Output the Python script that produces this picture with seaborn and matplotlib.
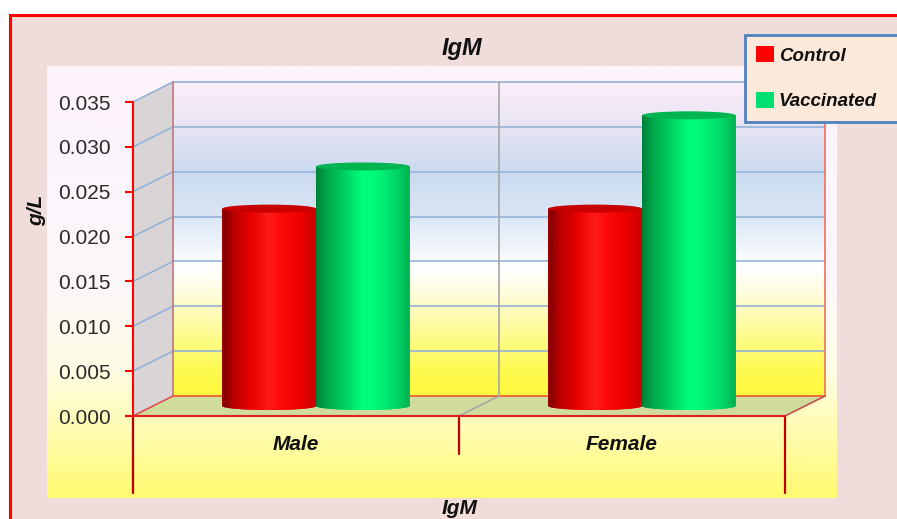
import numpy as np
import pandas as pd
import matplotlib
matplotlib.use("Agg")
import matplotlib.pyplot as plt
import seaborn as sns
from matplotlib.colors import LinearSegmentedColormap
from matplotlib.patches import Rectangle, Polygon, Ellipse
from matplotlib.transforms import ScaledTranslation

# data
sexes = ["Male", "Female"]
groups = ["Control", "Vaccinated"]
control = [0.0220, 0.0220]
vaccinated = [0.0267, 0.0324]
yticks = [0.000, 0.005, 0.010, 0.015, 0.020, 0.025, 0.030, 0.035]

df = pd.DataFrame({
    "sex": sexes + sexes,
    "group": [groups[0]] * 2 + [groups[1]] * 2,
    "igm": control + vaccinated,
})

sns.set_theme(style="white")
plt.rcParams["font.family"] = ["Liberation Sans", "DejaVu Sans"]

W, H = 897, 519
fig = plt.figure(figsize=(W / 100, H / 100), dpi=100)
fig.patch.set_facecolor("white")

# background layer in pixel coords (y down)
bg = fig.add_axes([0, 0, 1, 1], zorder=0)
bg.axis("off")

# front plane of the 3d box, depth offset to the back wall
L, R, T, B = 133, 785, 102, 416
DX, DY = 40, 20
ax = fig.add_axes([L / W, (H - B) / H, (R - L) / W, (B - T) / H], zorder=1)
ax.patch.set_visible(False)

pal = ["#ff0000", "#00e070"]
sns.barplot(data=df, x="sex", y="igm", hue="group", palette=pal, width=0.575,
            saturation=1, errorbar=None, linewidth=0, ax=ax)

ax.set_xlim(-0.5, 1.5)
ax.set_ylim(0, 0.035)


def px(xd, yd):
    x, y = ax.transData.transform((xd, yd))
    return x, H - y


def grad_img(axis, extent, stops, vertical=True, **kw):
    cmap = LinearSegmentedColormap.from_list("g", stops)
    arr = np.linspace(0, 1, 256)
    arr = arr.reshape(-1, 1) if vertical else arr.reshape(1, -1)
    return axis.imshow(arr, cmap=cmap, extent=extent, aspect="auto",
                       interpolation="bicubic", **kw)


# outer chart area with red border
bg.add_patch(Rectangle((10, 15), W, H, facecolor="#efdcdb", edgecolor="#ff0000",
                       lw=2.2, zorder=1))
# inner plot area
grad_img(bg, (47, 837, 498, 66),
         [(0, "#fdf3fb"), (0.5, "#fcf7fb"), (0.7, "#fffde6"),
          (0.85, "#fffcb0"), (1, "#fffa70")], zorder=2)

# side wall, back wall, floor
bg.add_patch(Polygon([(L, B), (L, T), (L + DX, T - DY), (L + DX, B - DY)],
                     facecolor="#d9d4d6", edgecolor="none", zorder=3))
grad_img(bg, (L + DX, R + DX, B - DY, T - DY),
         [(0, "#fdeefa"), (0.15, "#e6e4f3"), (0.29, "#cadaef"), (0.43, "#dbe6f5"),
          (0.55, "#f6f9fd"), (0.6, "#ffffff"), (0.7, "#fdfcce"), (0.82, "#fdfb88"),
          (0.92, "#fefa50"), (1, "#fff93e")], zorder=3)
bg.add_patch(Polygon([(L, B), (R, B), (R + DX, B - DY), (L + DX, B - DY)],
                     facecolor="#d0dc9c", edgecolor="none", zorder=3))

# gridlines on back wall and side wall
for v in yticks[1:]:
    _, y = px(-0.5, v)
    bg.plot([L + DX, R + DX], [y - DY, y - DY], color="#95b3d7", lw=1.2, zorder=4)
    bg.plot([L, L + DX], [y, y - DY], color="#95b3d7", lw=1.2, zorder=4)

# box edges
bg.plot([L + DX, R + DX], [B - DY, B - DY], color="#ee6a3a", lw=1.4, zorder=5)
bg.plot([L + DX, L + DX], [T - DY, B - DY], color="#c07878", lw=1.2, zorder=5)
bg.plot([R + DX, R + DX], [T - DY, B - DY], color="#f07060", lw=1.2, zorder=5)
bg.plot([L, L + DX], [B, B - DY], color="#e05050", lw=1.2, zorder=5)
bg.plot([R, R + DX], [B, B - DY], color="#c0504d", lw=1.2, zorder=5)

# category boundaries
for xb in [-0.5, 0.5, 1.5]:
    x, _ = px(xb, 0)
    if xb == 0.5:
        bg.plot([x + DX, x + DX], [T - DY, B - DY], color="#a6a6a6", lw=1.2, zorder=5)
        bg.plot([x, x + DX], [B, B - DY], color="#a6a6a6", lw=1.2, zorder=5)
        bot = 454
    else:
        bot = 493
    bg.plot([x, x], [B, bot], color="#c00000", lw=1.6, zorder=5)

bg.set_xlim(0, W)
bg.set_ylim(H, 0)

# cylinders at mid depth
off = ScaledTranslation(DX / 2 / 100, DY / 2 / 100, fig.dpi_scale_trans)
tr = ax.transData + off
ry = 4 / (ax.bbox.height / 0.035)
shades = [
    [(0, "#7a0000"), (0.12, "#b80000"), (0.3, "#e80000"), (0.5, "#ff1a1a"),
     (0.62, "#ff0a0a"), (0.85, "#ea0000"), (1, "#c80000")],
    [(0, "#00803a"), (0.12, "#00a84a"), (0.3, "#00d060"), (0.5, "#00ff7c"),
     (0.62, "#00fa78"), (0.85, "#00d868"), (1, "#00b050")],
]
tops = ["#c80000", "#00b450"]

for i, cont in enumerate(ax.containers):
    for p in cont:
        p.set_transform(tr)
        x0, w, h = p.get_x(), p.get_width(), p.get_height()
        cx = x0 + w / 2
        t = np.linspace(np.pi, 2 * np.pi, 60)
        verts = [(x0, h)] + [(cx + w / 2 * np.cos(a), ry * np.sin(a)) for a in t] + [(x0 + w, h)]
        body = Polygon(verts, closed=True, transform=tr, facecolor=p.get_facecolor(),
                       edgecolor="none", zorder=2)
        ax.add_patch(body)
        im = grad_img(ax, (x0, x0 + w, -ry, h), shades[i], vertical=False,
                      transform=tr, zorder=3)
        im.set_clip_path(body)
        ax.add_patch(Ellipse((cx, h), w, 2 * ry, transform=tr, facecolor=tops[i],
                             edgecolor="none", zorder=4))

ax.set_xlim(-0.5, 1.5)
ax.set_ylim(0, 0.035)

# axes styling
for s in ["top", "right"]:
    ax.spines[s].set_visible(False)
ax.spines["left"].set_color("#ff0000")
ax.spines["left"].set_linewidth(1.5)
ax.spines["bottom"].set_color("#e02020")
ax.spines["bottom"].set_linewidth(1.5)

ax.set_yticks(yticks, [f"{v:.3f}" for v in yticks])
ax.tick_params(axis="y", left=True, length=6, width=1.5, color="#ff0000", pad=10,
               labelsize=15, labelcolor="#2a2a2a")
ax.set_xticks(range(len(sexes)), sexes, fontweight="bold", fontstyle="italic")
ax.tick_params(axis="x", bottom=False, length=0, pad=14, labelsize=15, labelcolor="#111111")

ax.set_ylabel("g/L", fontsize=15, fontweight="bold", fontstyle="italic", color="#111111", va="center")
ax.yaxis.set_label_coords((37 - L) / (R - L), (B - 210) / (B - T))
ax.set_xlabel("IgM", fontsize=15, fontweight="bold", fontstyle="italic", color="#111111", va="center")
ax.xaxis.set_label_coords((460 - L) / (R - L), (B - 508) / (B - T))

fig.text(462 / W, 1 - 48 / H, "IgM", ha="center", va="center", fontsize=17,
         fontweight="bold", fontstyle="italic", color="#111111")

old = ax.get_legend()
handles = old.legend_handles
labels = [tx.get_text() for tx in old.get_texts()]
leg = ax.legend(handles, labels, loc="upper left",
                bbox_to_anchor=(745 / W, 0.5, 200 / W, 0.5 - 35 / H),
                bbox_transform=fig.transFigure, mode="expand", borderaxespad=0,
                prop=dict(family="Liberation Sans", weight="bold", style="italic", size=13.5),
                labelspacing=1.45, handlelength=0.95, handleheight=0.95,
                handletextpad=0.25, borderpad=0.6, fancybox=False,
                edgecolor="#4f81bd", facecolor="#fde9d9", framealpha=1)
leg.get_frame().set_linewidth(2)
for tx in leg.get_texts():
    tx.set_color("#111111")

fig.savefig("out.png", dpi=100)
